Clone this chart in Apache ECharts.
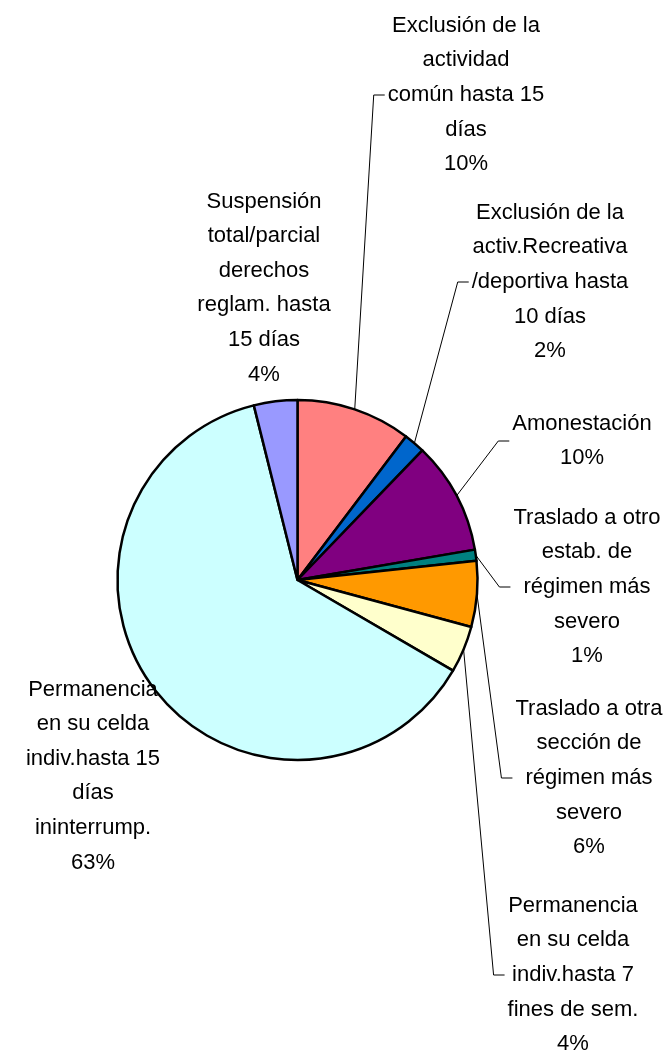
<!DOCTYPE html>
<html>
<head>
<meta charset="utf-8">
<script src="https://cdn.jsdelivr.net/npm/echarts@6/dist/echarts.min.js"></script>
<style>
  html, body { margin: 0; padding: 0; background: #fff; }
  #chart { width: 664px; height: 1052px; }
</style>
</head>
<body>
<div id="chart"></div>
<script>
// slices, clockwise from 12 o'clock
var categories = [
  'Exclusión de la\nactividad\ncomún hasta 15\ndías',
  'Exclusión de la\nactiv.Recreativa\n/deportiva hasta\n10 días',
  'Amonestación',
  'Traslado a otro\nestab. de\nrégimen más\nsevero',
  'Traslado a otra\nsección de\nrégimen más\nsevero',
  'Permanencia\nen su celda\nindiv.hasta 7\nfines de sem.',
  'Permanencia\nen su celda\nindiv.hasta 15\ndías\nininterrump.',
  'Suspensión\ntotal/parcial\nderechos\nreglam. hasta\n15 días'
];
var values = [10.3, 1.9, 10.1, 1.0, 5.9, 4.2, 62.7, 3.9];
var colors = ['#FF8080', '#0066CC', '#800080', '#008080', '#FF9900', '#FFFFCC', '#CCFFFF', '#9999FF'];

// where each label block sits (centre), and whether it gets a leader line
var labelPos = [[466, 95], [550, 282], [582, 441], [587, 587], [589, 778], [573, 975], [93, 776], [264, 288]];
var showLeader = [true, true, true, true, true, true, false, false];

var chart = echarts.init(document.getElementById('chart'));

chart.setOption({
  animation: false,
  series: [{
    type: 'pie',
    center: [297.5, 580],
    radius: 180,
    startAngle: 90,
    clockwise: true,
    percentPrecision: 0,
    avoidLabelOverlap: false,
    itemStyle: { borderColor: '#000', borderWidth: 2.5 },
    emphasis: { disabled: true },
    label: {
      show: true,
      position: 'outside',
      formatter: '{b}\n{d}%',
      fontFamily: 'Liberation Sans',
      fontSize: 22,
      lineHeight: 34.6,
      color: '#000',
      align: 'center'
    },
    labelLine: {
      show: true,
      length: 10,
      length2: 10,
      lineStyle: { color: '#000', width: 1 }
    },
    labelLayout: function (p) {
      var i = p.dataIndex;
      var pos = labelPos[i];
      var res = { x: pos[0], y: pos[1], align: 'center', verticalAlign: 'middle' };
      if (showLeader[i] && p.labelLinePoints) {
        var a = p.labelLinePoints[0];
        var endX = pos[0] - p.labelRect.width / 2 - 3;
        res.labelLinePoints = [a, [endX - 11, pos[1]], [endX, pos[1]]];
      }
      return res;
    },
    data: values.map(function (v, i) {
      return {
        value: v,
        name: categories[i],
        itemStyle: { color: colors[i] },
        labelLine: { show: showLeader[i] }
      };
    })
  }]
});
</script>
</body>
</html>
